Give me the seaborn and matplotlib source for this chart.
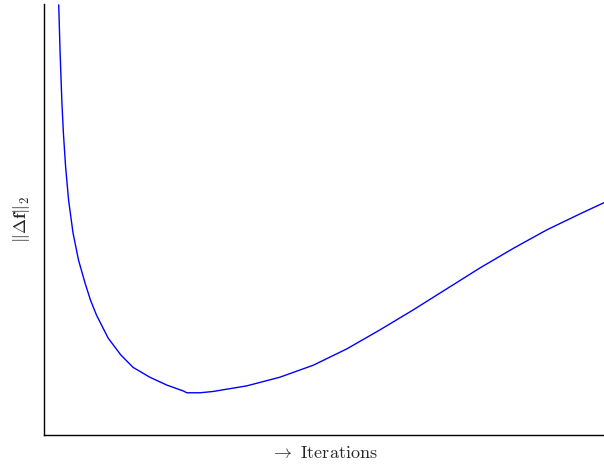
import matplotlib
matplotlib.use("Agg")
import matplotlib.pyplot as plt
import seaborn as sns
import pandas as pd

# Norm of the update per iteration (arbitrary units)
iterations = [2.63, 2.86, 3.18, 3.46, 3.86, 4.39, 5.18, 6.16, 7.32, 8.30, 9.38,
              11.45, 13.7, 15.9, 18.9, 21.9, 24.9, 25.5,
              27.9, 30.2, 36.2, 42.1, 48.1, 54.1, 60.0, 65.9, 71.9, 77.9,
              83.8, 89.8, 95.7, 100.0]
delta_norm = [99.8, 89.3, 77.7, 70.1, 62.2, 54.5, 46.9, 40.6, 35.3, 31.3, 27.8,
              22.5, 18.6, 15.7, 13.4, 11.6, 10.2, 9.8,
              9.8, 10.1, 11.4, 13.4, 16.2, 20.0, 24.4, 29.0, 33.9, 38.8,
              43.3, 47.6, 51.3, 53.9]

df = pd.DataFrame({"iter": iterations, "norm": delta_norm})

sns.set_theme(style="white")
plt.rcParams["mathtext.fontset"] = "cm"
plt.rcParams["font.family"] = ["cmr10", "DejaVu Serif"]
plt.rcParams["axes.formatter.use_mathtext"] = True

fig = plt.figure(figsize=(6.04, 4.65), dpi=100)
ax = fig.add_axes([44 / 604, 30 / 465, 560 / 604, 431 / 465])

sns.lineplot(data=df, x="iter", y="norm", ax=ax, color="#0000ff",
             linewidth=1.0, estimator=None, sort=False)

ax.set_xlim(0, 100)
ax.set_ylim(0, 100)
ax.set_xticks([])
ax.set_yticks([])
sns.despine(ax=ax)
for side in ("left", "bottom"):
    ax.spines[side].set_color("black")
    ax.spines[side].set_linewidth(1.0)

ax.set_xlabel(r"$\rightarrow$ Iterations", fontsize=13, labelpad=7)
ax.set_ylabel(r"$\|\Delta\mathbf{f}\|_2$", fontsize=13, labelpad=9)

fig.savefig("out.png", dpi=100)
